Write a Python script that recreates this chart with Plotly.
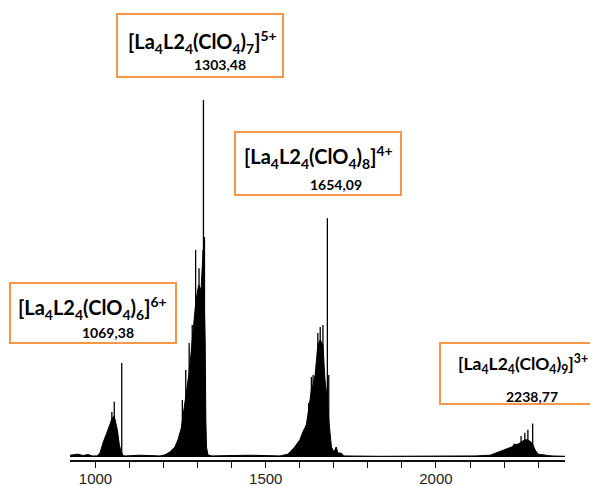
"""
ESI-MS spectrum of [La4L2_4(ClO4)n] species, with labelled charge states.
"""
import plotly.graph_objects as go

# profile (envelope) of the spectrum, m/z vs relative intensity (%)
env_mz = [925, 949, 963, 978, 990, 1004, 1013, 1023, 1033, 1040, 1045, 1049, 1055,
          1060, 1064, 1070, 1075, 1081, 1087, 1131, 1160, 1189, 1204, 1218, 1233,
          1242, 1252, 1260, 1267, 1274, 1280, 1286, 1295, 1303, 1310, 1316, 1322,
          1324, 1326, 1330, 1342, 1395, 1454, 1542, 1565, 1585, 1600, 1609, 1619,
          1626, 1634, 1639, 1645, 1653, 1660, 1668, 1674, 1681, 1685, 1693, 1700,
          1707, 1712, 1722, 1730, 1835, 1953, 2071, 2115, 2159, 2183, 2208, 2222,
          2230, 2242, 2250, 2261, 2270, 2279, 2285, 2291, 2300, 2310, 2330, 2341,
          2379]
env_int = [0.5, 0.8, 0.4, 0.7, 0.3, 0.3, 1.1, 4.3, 6.7, 8.5, 9.5, 10.9, 11.5,
           9.0, 7.6, 3.4, 1.5, 0.4, 0.3, 0.5, 0.3, 0.3, 0.6, 1.4, 2.8,
           4.8, 8.1, 13.2, 17.4, 23.0, 28.6, 34.2, 44.0, 48.2, 46.8, 58.0, 32.8,
           10.4, 2.8, 0.6, 0.3, 0.4, 0.5, 0.3, 0.8, 2.8, 4.8, 7.0, 9.0,
           13.2, 18.8, 20.2, 23.0, 31.4, 32.8, 31.4, 21.6, 16.0, 10.4, 2.8, 1.4,
           2.8, 1.1, 1.1, 0.3, 0.2, 0.2, 0.2, 0.3, 0.5, 1.3, 2.2, 2.8,
           3.4, 3.6, 4.2, 4.8, 4.8, 4.2, 3.4, 2.0, 0.8, 0.6, 0.4, 0.3,
           0.2]

# isotopic lines standing above the envelope
peak_mz = [1048, 1055, 1077,
           1255, 1265, 1275, 1284, 1294, 1304, 1317, 1320,
           1626, 1634, 1639, 1653, 1660, 1668, 1681, 1685,
           2230, 2242, 2250, 2261, 2270, 2284]
peak_int = [12.6, 15.5, 26.3,
            16.0, 24.4, 31.9, 37.0, 58.0, 52.9, 100.0, 61.6,
            15.1, 22.4, 23.0, 34.7, 36.4, 37.0, 66.9, 23.0,
            3.8, 3.8, 5.9, 6.8, 7.6, 9.4]

# species labels
species = [
    "[La<sub>4</sub>L2<sub>4</sub>(ClO<sub>4</sub>)<sub>6</sub>]<sup>6+</sup>",
    "[La<sub>4</sub>L2<sub>4</sub>(ClO<sub>4</sub>)<sub>7</sub>]<sup>5+</sup>",
    "[La<sub>4</sub>L2<sub>4</sub>(ClO<sub>4</sub>)<sub>8</sub>]<sup>4+</sup>",
    "[La<sub>4</sub>L2<sub>4</sub>(ClO<sub>4</sub>)<sub>9</sub>]<sup>3+</sup>",
]
species_mz = ["1069,38", "1303,48", "1654,09", "2238,77"]

# the page body has an 8px margin, so the figure is shrunk and shifted by it
OFF = 8
W, H = 598 - OFF, 486 - OFF
L, R, T, B = 70 - OFF, 33, 100 - OFF, 26


def paper(px, py):
    # window pixels -> paper coordinates
    px, py = px - OFF, py - OFF
    return (px - L) / (W - L - R), (H - B - py) / (H - T - B)


# box (x0, y0, x1, y1), main text centre, number centre, main font size  (window pixels)
boxes = [
    ((10, 283, 176, 343), (92, 308), (108, 332), 20),
    ((117, 14, 283, 77), (202, 42), (220, 65), 20),
    ((235, 132, 401, 195), (318, 157), (336, 184), 20),
    ((440, 343, 606, 404), (523, 364), (532, 396), 17.5),
]

stick_x, stick_y = [], []
for m, v in zip(peak_mz, peak_int):
    stick_x += [m, m, None]
    stick_y += [0, v, None]

fig = go.Figure()
fig.add_trace(go.Scatter(
    x=env_mz, y=env_int, mode="lines",
    line=dict(color="black", width=1),
    fill="tozeroy", fillcolor="black",
    hoverinfo="skip",
))
fig.add_trace(go.Scatter(
    x=stick_x, y=stick_y, mode="lines",
    line=dict(color="black", width=1.3),
    hoverinfo="skip",
))

orange = "#F79646"
for (bx, tc, nc, fs), text, num in zip(boxes, species, species_mz):
    x0, y0 = paper(bx[0], bx[3])
    x1, y1 = paper(bx[2], bx[1])
    fig.add_shape(type="rect", xref="paper", yref="paper",
                  x0=x0, y0=y0, x1=x1, y1=y1,
                  line=dict(color=orange, width=2), fillcolor="white",
                  layer="above")
    tx, ty = paper(*tc)
    fig.add_annotation(xref="paper", yref="paper", x=tx, y=ty,
                       text=text, showarrow=False,
                       xanchor="center", yanchor="middle",
                       font=dict(family="Lato", size=fs, color="black",
                                 weight="bold"))
    nx, ny = paper(*nc)
    fig.add_annotation(xref="paper", yref="paper", x=nx, y=ny,
                       text=num, showarrow=False,
                       xanchor="center", yanchor="middle",
                       font=dict(family="Lato", size=14, color="black",
                                 weight="bold"))

fig.update_layout(
    template="none",
    width=W, height=H,
    margin=dict(l=L, r=R, t=T, b=B, pad=0),
    paper_bgcolor="white", plot_bgcolor="white",
    showlegend=False,
    xaxis=dict(
        range=[925, 2379], tick0=0, dtick=500,
        showgrid=False, zeroline=False,
        showline=True, linecolor="#111111", linewidth=1.5,
        ticks="outside", ticklen=6, tickwidth=1.3, tickcolor="#111111",
        tickfont=dict(family="Liberation Sans", size=15, color="#222222"),
        ticklabelstandoff=-2,
        minor=dict(dtick=100, tick0=0, ticks="outside", ticklen=6,
                   tickwidth=1.3, tickcolor="#111111", showgrid=False),
        automargin=False,
    ),
    yaxis=dict(range=[-0.84, 100], visible=False, automargin=False),
)

fig.write_html("out.html")
